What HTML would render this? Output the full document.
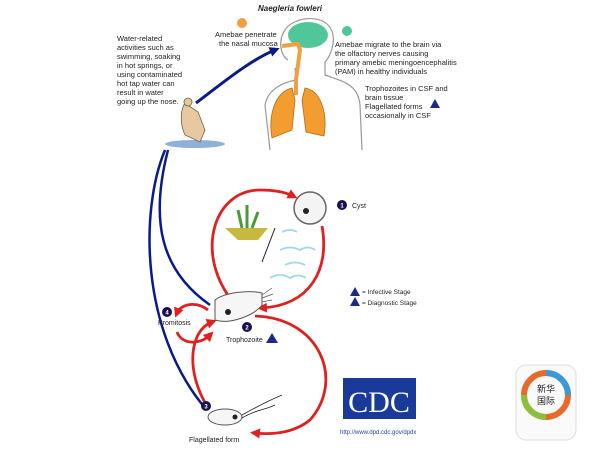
<!DOCTYPE html>
<html><head><style>
body{margin:0;width:600px;height:450px;background:#fff;overflow:hidden}
svg{display:block}
text{font-family:"Liberation Sans",sans-serif;fill:#222}
</style></head><body>
<svg width="600" height="450" viewBox="0 0 600 450">
<defs>
<marker id="r" markerUnits="userSpaceOnUse" markerWidth="10" markerHeight="10" refX="5" refY="5" orient="auto"><path d="M0,0L10,5L0,10z" fill="#e02020"/></marker>
<marker id="b" markerUnits="userSpaceOnUse" markerWidth="10" markerHeight="10" refX="5" refY="5" orient="auto"><path d="M0,0L10,5L0,10z" fill="#0a1a8a"/></marker>
</defs>
<text x="258" y="11" font-size="8" font-weight="bold" font-style="italic">Naegleria fowleri</text>
<!-- body outline -->
<path d="M288,60 C280,55 278,40 285,30 C292,18 318,14 328,25 C338,35 332,55 325,62 L325,75 C345,82 358,85 360,105 L362,150 M270,150 L265,105 C268,88 285,82 296,80 L295,68" fill="none" stroke="#999" stroke-width="1.2"/>
<ellipse cx="308" cy="35" rx="20" ry="13" fill="#4fc79a"/>
<path d="M282,46 L298,44 L300,50 L296,80 L296,95" fill="none" stroke="#f0a040" stroke-width="4"/>
<path d="M292,88 C275,92 268,115 272,138 L292,130 L295,100z M305,88 C320,90 328,112 324,136 L306,132 L302,100z" fill="#f39c30" stroke="#b86a10" stroke-width=".8"/>
<circle cx="242" cy="23" r="5" fill="#f0a040"/><circle cx="347" cy="31" r="5" fill="#4fc79a"/>
<text font-size="7.5"><tspan x="215" y="37">Amebae penetrate</tspan><tspan x="219" y="46">the nasal mucosa</tspan></text>
<text font-size="7.5"><tspan x="335" y="47">Amebae migrate to the brain via</tspan><tspan x="335" y="56">the olfactory nerves causing</tspan><tspan x="335" y="65">primary amebic meningoencephalitis</tspan><tspan x="335" y="74">(PAM) in healthy individuals</tspan></text>
<text font-size="7.5"><tspan x="365" y="91">Trophozoites in CSF and</tspan><tspan x="365" y="100">brain tissue</tspan><tspan x="365" y="109">Flagellated forms</tspan><tspan x="365" y="118">occasionally in CSF</tspan></text>
<path d="M430,108 L435,99 L440,108z" fill="#1a2a8a"/>
<text font-size="7.5"><tspan x="117" y="41">Water-related</tspan><tspan x="117" y="50">activities such as</tspan><tspan x="117" y="59">swimming, soaking</tspan><tspan x="117" y="68">in hot springs, or</tspan><tspan x="117" y="77">using contaminated</tspan><tspan x="117" y="86">hot tap water can</tspan><tspan x="117" y="95">result in water</tspan><tspan x="117" y="104">going up the nose.</tspan></text>
<!-- man -->
<ellipse cx="195" cy="144" rx="30" ry="4" fill="#8fb0d8"/>
<path d="M185,103 C180,110 180,125 185,135 L200,142 L205,130 L198,112z" fill="#e8c8a0" stroke="#664" stroke-width=".8"/>
<circle cx="188" cy="102" r="4" fill="#e8c8a0" stroke="#664" stroke-width=".8"/>
<!-- blue arrows -->
<path d="M196,103 C220,85 250,60 275,50" fill="none" stroke="#0a1a8a" stroke-width="3" marker-end="url(#b)"/>
<path d="M165,150 C140,210 140,330 205,408" fill="none" stroke="#0a1a8a" stroke-width="2.5"/>
<path d="M168,150 C150,220 160,270 210,305" fill="none" stroke="#0a1a8a" stroke-width="2.5"/>
<!-- red cycle -->
<g fill="none" stroke="#e02020" stroke-width="2.8">
<path d="M230,298 C195,250 215,190 260,190 C275,190 285,192 293,196" marker-end="url(#r)"/>
<path d="M322,226 C330,270 310,305 262,308" marker-end="url(#r)"/>
<path d="M255,316 C320,318 345,380 310,420 C295,432 275,435 255,433" marker-end="url(#r)"/>
<path d="M207,406 C185,370 190,330 212,322" marker-end="url(#r)"/>
<path d="M208,310 C195,300 180,305 177,313" marker-end="url(#r)"/>
<path d="M177,332 C182,345 200,345 210,335" marker-end="url(#r)"/>
</g>
<!-- cyst -->
<circle cx="310" cy="208" r="16" fill="#f4f4f4" stroke="#666" stroke-width="1.5"/>
<circle cx="306" cy="211" r="3" fill="#222"/>
<circle cx="342" cy="205" r="5" fill="#1a1050"/><text x="342" y="207.5" font-size="6" text-anchor="middle" style="fill:#fff;font-weight:bold">1</text><text x="352" y="208" font-size="7">Cyst</text>
<!-- plant/soil -->
<path d="M225,228 L268,228 L258,240 L238,240z" fill="#c8b840"/>
<path d="M242,228 L238,210 M247,228 L247,205 M252,228 L258,212" stroke="#4a9a3a" stroke-width="3"/>
<line x1="262" y1="262" x2="275" y2="228" stroke="#222" stroke-width="1"/>
<g fill="none" stroke="#9ed8e8" stroke-width="1.8"><path d="M282,232 q8,-4 15,0"/><path d="M280,250 q10,-5 20,0 q8,-5 15,0"/><path d="M285,265 q10,-5 20,0"/><path d="M270,278 q10,-6 20,0 q8,-5 16,0"/></g>
<!-- trophozoite -->
<path d="M215,300 C225,292 250,290 262,293 L262,305 C255,315 230,325 215,320z" fill="#f6f6f6" stroke="#555"/>
<path d="M262,295 L272,288 M262,298 L273,294 M262,302 L272,300" stroke="#555" stroke-width=".7"/>
<circle cx="228" cy="312" r="3" fill="#222"/>
<circle cx="247" cy="327" r="5" fill="#1a1050"/><text x="247" y="329.5" font-size="6" text-anchor="middle" style="fill:#fff;font-weight:bold">2</text>
<text x="226" y="342" font-size="7">Trophozoite</text><path d="M266,343 L272,333 L278,343z" fill="#1a2a8a"/>
<circle cx="167" cy="312" r="5" fill="#1a1050"/><text x="167" y="314.5" font-size="6" text-anchor="middle" style="fill:#fff;font-weight:bold">4</text><text x="158" y="325" font-size="7">Promitosis</text>
<!-- flagellated -->
<ellipse cx="225" cy="417" rx="17" ry="8" fill="#f6f6f6" stroke="#555"/>
<circle cx="235" cy="417" r="2.5" fill="#222"/>
<path d="M242,415 C260,405 270,400 282,395 M242,418 C255,410 265,410 275,405" fill="none" stroke="#222" stroke-width=".8"/>
<circle cx="206" cy="406" r="5" fill="#1a1050"/><text x="206" y="408.5" font-size="6" text-anchor="middle" style="fill:#fff;font-weight:bold">3</text>
<text x="189" y="442" font-size="7">Flagellated form</text>
<!-- legend -->
<path d="M350,296 L355,287 L360,296z" fill="#1a2a8a"/><text x="362" y="294" font-size="6.5">= Infective Stage</text>
<path d="M350,306 L355,297 L360,306z" fill="#1a2a8a"/><text x="362" y="305" font-size="6.5">= Diagnostic Stage</text>
<!-- CDC -->
<rect x="343" y="378" width="73" height="41" fill="#1a3a9a"/>
<text x="379" y="412" font-size="30" text-anchor="middle" style="fill:#fff;font-family:'Liberation Serif',serif">CDC</text>
<text x="340" y="434" font-size="6" style="fill:#2244aa">http://www.dpd.cdc.gov/dpdx</text>
<!-- xinhua -->
<rect x="516" y="365" width="60" height="75" rx="10" fill="#fafafa" stroke="#ddd"/>
<circle cx="546" cy="395" r="22" fill="none" stroke="#e86a2a" stroke-width="6"/>
<path d="M546,373 A22,22 0 0 1 568,395" fill="none" stroke="#3a9ad8" stroke-width="6"/>
<path d="M546,417 A22,22 0 0 1 524,395" fill="none" stroke="#8ac040" stroke-width="6"/>
<text x="546" y="392" font-size="9" text-anchor="middle" style="font-family:'Noto Sans CJK SC',sans-serif">新华</text>
<text x="546" y="404" font-size="9" text-anchor="middle" style="font-family:'Noto Sans CJK SC',sans-serif">国际</text>
</svg>
</body></html>
